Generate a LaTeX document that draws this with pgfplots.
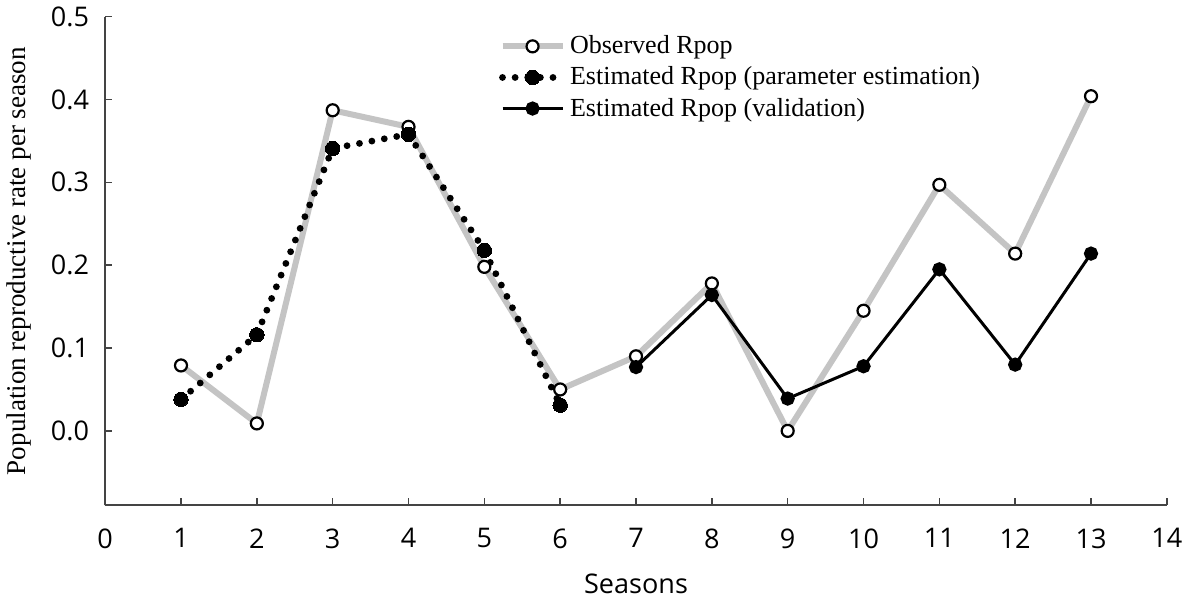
\documentclass[border=0pt]{standalone}
\usepackage{fontspec}
\setmainfont{Liberation Serif}
\newfontfamily\ticksans{Open Sans}
\usepackage{pgfplots}
\pgfplotsset{compat=1.18}
\definecolor{axisgray}{HTML}{444444}
\definecolor{obsgray}{HTML}{C4C4C4}

\begin{document}
\begin{tikzpicture}
\begin{axis}[
  scale only axis,
  width=530pt, height=244pt,
  xmin=0, xmax=14, ymin=-0.09, ymax=0.5,
  axis lines*=left,
  axis line style={axisgray, line width=1pt},
  xtick={0,1,...,14},
  ytick={0,0.1,0.2,0.3,0.4,0.5},
  tick align=inside,
  major tick length=3.5pt,
  tick style={axisgray, line width=0.8pt},
  /pgf/number format/assume math mode=true,
  ticklabel style={font=\ticksans\fontsize{13.5}{16}\selectfont, text=black},
  yticklabel style={/pgf/number format/fixed, /pgf/number format/fixed zerofill,
                    /pgf/number format/precision=1, xshift=-4.5pt},
  xticklabel style={yshift=-8pt},
  xlabel={Seasons},
  xlabel style={font=\ticksans\fontsize{13.5}{16}\selectfont, yshift=-6pt},
  ylabel={Population reproductive rate per season},
  ylabel style={font=\fontsize{13.5}{16}\selectfont, yshift=3pt},
  legend style={draw=none, fill=none, at={(rel axis cs:0.365,0.978)}, anchor=north west,
                font=\fontsize{13}{15}\selectfont, row sep=1pt,
                legend cell align=left},
  legend image code/.code={%
    \draw[mark repeat=2, mark phase=2] plot coordinates {(0pt,0pt) (15pt,0pt) (30pt,0pt)};},
  clip=false,
]
% observed population reproductive rate
\addplot[obsgray, line width=3pt,
  mark=*, mark size=3pt,
  mark options={fill=white, draw=black, line width=1.1pt, solid}]
  coordinates {(1,0.079) (2,0.009) (3,0.387) (4,0.367) (5,0.198) (6,0.050)
               (7,0.090) (8,0.178) (9,0.000) (10,0.145) (11,0.297) (12,0.214) (13,0.404)};
\addlegendentry{Observed Rpop}

% model output over the seasons used for fitting
\addplot[black, line width=3.4pt, line cap=round, dash pattern=on 0pt off 6.3pt,
  mark=*, mark size=3.6pt, mark options={solid, fill=black, line width=0pt}]
  coordinates {(1,0.038) (2,0.116) (3,0.341) (4,0.358) (5,0.218) (6,0.031)};
\addlegendentry{Estimated Rpop (parameter estimation)}

% model output over the held-out seasons
\addplot[black, line width=1.5pt,
  mark=*, mark size=2.8pt, mark options={solid, fill=black}]
  coordinates {(7,0.077) (8,0.164) (9,0.039) (10,0.078) (11,0.195) (12,0.080) (13,0.214)};
\addlegendentry{Estimated Rpop (validation)}
\end{axis}
\end{tikzpicture}
\end{document}
